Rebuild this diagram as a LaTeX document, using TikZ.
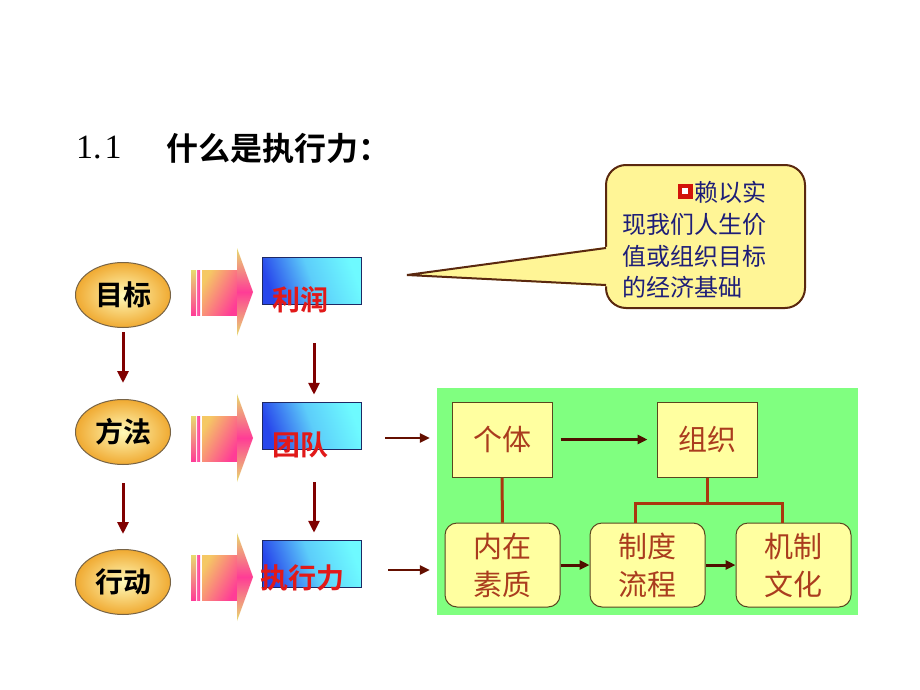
\documentclass[tikz,border=0pt]{standalone}
\usepackage{fontspec}
\setmainfont{Noto Sans CJK SC}[BoldFont={Noto Sans CJK SC Bold}]
\newfontfamily\numfont{Liberation Serif}
\usetikzlibrary{shapes.geometric,arrows.meta}
\definecolor{ellin}{RGB}{255,250,185}
\definecolor{ellout}{RGB}{240,170,50}
\definecolor{ellbd}{RGB}{120,100,70}
\definecolor{bluel}{RGB}{40,70,235}
\definecolor{bluer}{RGB}{110,250,255}
\definecolor{bluebd}{RGB}{30,40,100}
\definecolor{lblred}{RGB}{225,25,25}
\definecolor{darkred}{RGB}{128,0,0}
\definecolor{maroon}{RGB}{100,15,0}
\definecolor{callfill}{RGB}{255,245,150}
\definecolor{callbd}{RGB}{90,40,15}
\definecolor{navy}{RGB}{30,30,120}
\definecolor{bulred}{RGB}{210,20,10}
\definecolor{panelgreen}{RGB}{128,255,128}
\definecolor{pyellow}{RGB}{255,255,160}
\definecolor{pbd}{RGB}{90,70,30}
\definecolor{ptext}{RGB}{170,60,30}
\definecolor{plink}{RGB}{170,55,15}
\definecolor{parrow}{RGB}{80,15,0}
\definecolor{fatyel}{RGB}{245,200,100}
\definecolor{fatpink}{RGB}{255,60,150}
\definecolor{fathead}{RGB}{230,220,110}
\tikzset{
  ell/.style={ellipse, draw=ellbd, line width=1pt, inner color=ellin, outer color=ellout,
    minimum width=95pt, minimum height=65pt, inner sep=0pt, font=\fontsize{28}{30}\selectfont\bfseries},
  bluebox/.style={rectangle, draw=bluebd, line width=1.5pt, left color=bluel, right color=bluer,
    middle color=bluer!75!bluel, shading angle=110, minimum width=99pt, minimum height=47pt, inner sep=0pt},
  redlbl/.style={text=lblred, inner sep=0pt, font=\fontsize{28}{30}\selectfont\bfseries},
  downarr/.style={draw=darkred, line width=3pt, -{Triangle[width=11pt,length=12pt]}},
  sidearr/.style={draw=maroon, line width=2.5pt, -{Triangle[width=9pt,length=10pt]}},
  pbox/.style={rectangle, draw=pbd, line width=1pt, fill=pyellow, minimum width=100pt,
    minimum height=75pt, text=ptext, inner sep=0pt, font=\fontsize{29}{38}\selectfont, align=center},
  rbox/.style={pbox, rounded corners=12pt, minimum width=115pt, minimum height=84pt},
  plinkst/.style={draw=plink, line width=3pt},
  parr/.style={draw=parrow, line width=3pt, -{Triangle[width=9pt,length=10pt]}},
  calltext/.style={anchor=west, inner sep=0pt, text=navy, font=\fontsize{24}{26}\selectfont},
}
\begin{document}
\begin{tikzpicture}[x=1pt,y=-1pt]
\useasboundingbox (0,0) rectangle (920,690);
\fill[white] (0,0) rectangle (920,690);

% title
\node[anchor=west, inner sep=0pt, font=\numfont\fontsize{34}{36}\selectfont] (tnum) at (76,148) {1.\hspace{3pt}1};
\node[anchor=west, inner sep=0pt, font=\fontsize{32}{34}\selectfont\bfseries] (ttl) at (166,148) {什么是执行力：};

% fat arrows
\foreach \c in {292,438,577} {
  \shade[top color=fathead, bottom color=fatpink] (191,\c-22) rectangle (196,\c+23);
  \shade[left color=fatpink!80, right color=fatpink] (197,\c-22) rectangle (200,\c+23);
  \shade[left color=fatyel, right color=fatpink, shading angle=60] (202,\c-22) rectangle (238,\c+23);
  \shade[top color=fathead, bottom color=fathead, middle color=fatpink] (237,\c-44) -- (253,\c) -- (237,\c+44) -- cycle;
}

% ellipses
\node[ell] (e1) at (123,295) {目标};
\node[ell] (e2) at (123,432) {方法};
\node[ell] (e3) at (123,582) {行动};

% blue boxes
\node[bluebox] (b1) at (312,281) {};
\node[bluebox] (b2) at (312,426) {};
\node[bluebox] (b3) at (312,564) {};
\node[redlbl] (l1) at (300,300) {利润};
\node[redlbl] (l2) at (300,445) {团队};
\node[redlbl] (l3) at (302,578) {执行力};

% down arrows
\draw[downarr, shorten <=4pt, shorten >=16pt] (e1) -- (e2);
\draw[downarr, shorten <=18pt, shorten >=15pt] (e2) -- (e3);
\draw[downarr, shorten <=38pt, shorten >=7pt] (b1.south -| 314,0) -- (b2.north -| 314,0);
\draw[downarr, shorten <=32pt, shorten >=7pt] (b2.south -| 314,0) -- (b3.north -| 314,0);

% callout
\node[draw=callbd, line width=2pt, fill=callfill, rounded corners=20pt, minimum width=199pt,
  minimum height=143pt, inner sep=0pt] (call) at (705.5,236.5) {};
\coordinate (tip) at (407,275);
\coordinate (pa) at (606,248);
\coordinate (pb) at (606,285);
\fill[callfill] (609,246.5) -- (tip) -- (609,286.5) -- cycle;
\draw[callbd, line width=2pt, line join=miter] (pa) -- (tip) -- (pb);
\node[fill=bulred, minimum size=15pt, inner sep=0pt] (bul) at (685,191) {};
\node[fill=white, minimum size=6pt, inner sep=0pt] (bulin) at (bul) {};
\node[calltext] (c1) at (694,192) {赖以实};
\node[calltext] (c2) at (622,224) {现我们人生价};
\node[calltext] (c3) at (622,256) {值或组织目标};
\node[calltext] (c4) at (622,287) {的经济基础};

% panel
\node[fill=panelgreen, minimum width=421pt, minimum height=227pt, inner sep=0pt] (panel) at (647.5,501.5) {};
\node[pbox] (p1) at (502,439.5) {个体};
\node[pbox] (p2) at (707,439.5) {组织};
\node[rbox] (p3) at (502.5,565) {内在\\素质};
\node[rbox] (p4) at (647.5,565) {制度\\流程};
\node[rbox] (p5) at (793.5,565) {机制\\文化};

\draw[parr, shorten <=8pt, shorten >=9pt] (p1) -- (p2);
\draw[plinkst] (p1) -- (p3);
\coordinate (j) at (707,503);
\coordinate (jl) at (635,503);
\coordinate (jr) at (782,503);
\draw[plinkst] (p2.south) -- (j);
\draw[plinkst, line join=miter] (jl |- p4.north) -- (jl) -- (jr) -- (jr |- p5.north);
\draw[parr] (p3) -- (p4);
\draw[parr] (p4) -- (p5);

% side arrows
\coordinate (s1) at (385,438);
\coordinate (s2) at (388,570);
\draw[sidearr, shorten >=7pt] (s1) -- (panel.west |- s1);
\draw[sidearr, shorten >=7pt] (s2) -- (panel.west |- s2);
\end{tikzpicture}
\end{document}
